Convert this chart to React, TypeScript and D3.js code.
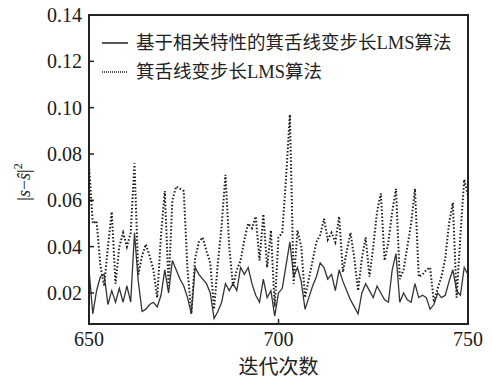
import React from "react";
import * as d3 from "d3";

const xStart = 650;
const solidSeries = [
  0.030, 0.011, 0.021, 0.027, 0.028, 0.015, 0.021, 0.016, 0.022, 0.016,
  0.023, 0.016, 0.046, 0.025, 0.012, 0.013, 0.015, 0.016, 0.014, 0.019,
  0.030, 0.020, 0.034, 0.030, 0.026, 0.023, 0.018, 0.011, 0.031, 0.028,
  0.026, 0.024, 0.020, 0.009, 0.012, 0.016, 0.024, 0.021, 0.024, 0.021,
  0.031, 0.028, 0.031, 0.024, 0.019, 0.016, 0.026, 0.018, 0.021, 0.010,
  0.020, 0.022, 0.032, 0.042, 0.027, 0.031, 0.025, 0.013, 0.018, 0.023,
  0.027, 0.033, 0.031, 0.026, 0.028, 0.021, 0.030, 0.025, 0.021, 0.017,
  0.014, 0.011, 0.020, 0.024, 0.021, 0.018, 0.023, 0.020, 0.017, 0.016,
  0.030, 0.037, 0.016, 0.020, 0.017, 0.016, 0.024, 0.018, 0.019, 0.018,
  0.013, 0.015, 0.020, 0.018, 0.019, 0.025, 0.030, 0.021, 0.019, 0.031,
  0.028,
];
const dottedSeries = [
  0.075, 0.050, 0.051, 0.032, 0.023, 0.040, 0.055, 0.024, 0.040, 0.046,
  0.040, 0.046, 0.076, 0.028, 0.036, 0.041, 0.036, 0.030, 0.018, 0.045,
  0.064, 0.023, 0.060, 0.066, 0.065, 0.064, 0.030, 0.011, 0.035, 0.042,
  0.044, 0.038, 0.033, 0.013, 0.033, 0.049, 0.071, 0.040, 0.023, 0.030,
  0.034, 0.043, 0.050, 0.048, 0.053, 0.034, 0.054, 0.031, 0.047, 0.014,
  0.044, 0.046, 0.070, 0.097, 0.024, 0.047, 0.040, 0.018, 0.026, 0.034,
  0.042, 0.045, 0.052, 0.043, 0.046, 0.042, 0.053, 0.029, 0.038, 0.046,
  0.035, 0.021, 0.035, 0.044, 0.027, 0.040, 0.055, 0.063, 0.034, 0.042,
  0.055, 0.065, 0.026, 0.030, 0.040, 0.050, 0.065, 0.027, 0.028, 0.030,
  0.031, 0.016, 0.022, 0.027, 0.035, 0.050, 0.059, 0.018, 0.045, 0.069,
  0.062,
];
const yTicks = [0.02, 0.04, 0.06, 0.08, 0.10, 0.12, 0.14];
const xTicks = [650, 700, 750];
const legendLabels = ["基于相关特性的箕舌线变步长LMS算法", "箕舌线变步长LMS算法"];
const xTitle = "迭代次数";

export default function App() {
  const left = 89, right = 468, top = 15, bottom = 324;
  const x = d3.scaleLinear().domain([650, 750]).range([left, right]);
  const y = d3.scaleLinear().domain([0.0066, 0.14]).range([bottom, top]);
  const line = d3
    .line<number>()
    .x((_, i) => x(xStart + i))
    .y((d) => y(d));
  const serif = "'Liberation Serif', 'Noto Sans CJK SC', serif";
  const tickFont = "'Liberation Serif', serif";
  return (
    <svg
      width={492}
      height={379}
      style={{ position: "absolute", left: 0, top: 0, background: "#fff" }}
    >
      <defs>
        <clipPath id="plot">
          <rect x={left} y={top} width={right - left} height={bottom - top} />
        </clipPath>
      </defs>
      <g clipPath="url(#plot)">
        <path
          d={line(dottedSeries) || ""}
          fill="none"
          stroke="#1a1a1a"
          strokeWidth={2}
          strokeDasharray="1.5 2"
        />
        <path
          d={line(solidSeries) || ""}
          fill="none"
          stroke="#333"
          strokeWidth={1.3}
        />
      </g>
      <rect
        x={left}
        y={top}
        width={right - left}
        height={bottom - top}
        fill="none"
        stroke="#222"
        strokeWidth={2}
      />
      {yTicks.map((t) => (
        <g key={t}>
          <line x1={left} x2={left + 5} y1={y(t)} y2={y(t)} stroke="#222" strokeWidth={1.5} />
          <text
            x={left - 7}
            y={y(t)}
            dy="0.35em"
            textAnchor="end"
            fontFamily={tickFont}
            fontSize={20}
            fill="#1a1a1a"
          >
            {t.toFixed(2)}
          </text>
        </g>
      ))}
      {xTicks.map((t) => (
        <g key={t}>
          <line x1={x(t)} x2={x(t)} y1={bottom} y2={bottom - 5} stroke="#222" strokeWidth={1.5} />
          <text
            x={x(t)}
            y={346}
            textAnchor="middle"
            fontFamily={tickFont}
            fontSize={20}
            fill="#1a1a1a"
          >
            {t}
          </text>
        </g>
      ))}
      <text
        x={(left + right) / 2}
        y={374}
        textAnchor="middle"
        fontFamily={serif}
        fontSize={20}
        fill="#222"
      >
        {xTitle}
      </text>
      <text
        transform="translate(30,182) rotate(-90)"
        textAnchor="middle"
        fontFamily={tickFont}
        fontSize={18}
        fill="#222"
      >
        <tspan>|</tspan>
        <tspan fontStyle="italic">s</tspan>
        <tspan>−</tspan>
        <tspan fontStyle="italic">ŝ</tspan>
        <tspan>|</tspan>
        <tspan fontSize={12} dy={-8}>2</tspan>
      </text>
      <line x1={102} x2={128} y1={43} y2={43} stroke="#222" strokeWidth={1.5} />
      <line x1={102} x2={128} y1={72} y2={72} stroke="#222" strokeWidth={1.5} strokeDasharray="1 1" />
      {legendLabels.map((l, i) => (
        <text
          key={l}
          x={136}
          y={43 + i * 29}
          dy="0.35em"
          fontFamily={serif}
          fontSize={18.5}
          fill="#222"
        >
          {l}
        </text>
      ))}
    </svg>
  );
}
